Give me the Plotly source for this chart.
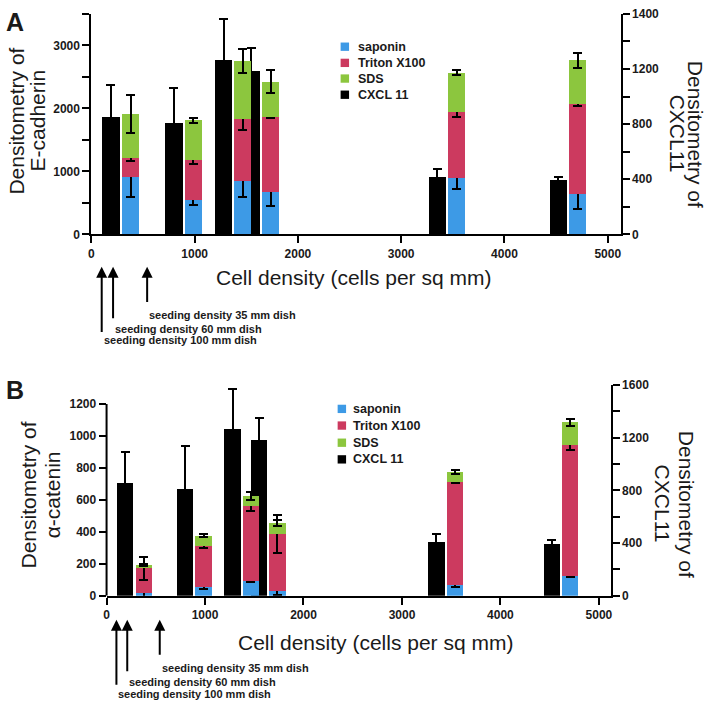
import plotly.graph_objects as go

W, H = 714, 708

# ---------------- data ----------------
x_stack = [380, 985, 1465, 1735, 3540, 4710]
x_cxcl = [190, 800, 1280, 1550, 3350, 4520]
bar_width = 165

# Panel A: E-cadherin (left axis)
a_saponin = [910, 540, 848, 672, 895, 647]
a_saponin_err = [320, 80, 255, 220, 170, 240]
a_triton = [300, 645, 983, 1190, 1040, 1422]
a_triton_err = [50, 65, 170, 20, 70, 35]
a_sds = [700, 630, 921, 564, 631, 694]
a_sds_err = [300, 40, 185, 185, 40, 115]
# Panel A: CXCL11 (right axis)
a_cxcl = [849, 806, 1265, 1183, 414, 395]
a_cxcl_err = [238, 256, 300, 170, 60, 22]

# Panel B: alpha-catenin (left axis)
b_saponin = [15, 55, 92, 29, 65, 127]
b_saponin_err = [30, 10, 8, 26, 12, 8]
b_triton = [157, 256, 468, 357, 649, 818]
b_triton_err = [72, 12, 28, 118, 6, 33]
b_sds = [22, 65, 65, 68, 59, 139]
b_sds_err = [8, 10, 25, 20, 12, 22]
# Panel B: CXCL11 (right axis)
b_cxcl = [856, 811, 1263, 1184, 409, 397]
b_cxcl_err = [233, 323, 305, 169, 62, 25]

seeding = [100, 210, 540]
seeding_labels = ["seeding density 100 mm dish", "seeding density 60 mm dish",
                  "seeding density 35 mm dish"]

series_names = ["saponin", "Triton X100", "SDS", "CXCL 11"]
colors = ["#3d9ae6", "#cc3a5f", "#8cc63e", "#000000"]

a_xticks = [0, 1000, 2000, 3000, 4000, 5000]
a_right_ticks = [0, 400, 800, 1200, 1600]
a_right_ticktext = ["0", "400", "800", "1200", "1400"]
b_left_ticks = [0, 200, 400, 600, 800, 1000, 1200]
b_right_ticks = [0, 400, 800, 1200, 1600]

FONT = "Liberation Sans, Arial, sans-serif"
TXT = "#1a1a1a"


def px_x(p):
    return p / W


def px_y(p):
    return 1 - p / H


def err(arr):
    return dict(type="data", array=arr, color="black", thickness=2, width=4.5)


fig = go.Figure()

# ---- Panel A ----
fig.add_trace(go.Bar(x=x_cxcl, y=a_cxcl, width=bar_width, marker=dict(color=colors[3], line=dict(width=0)),
                     error_y=err(a_cxcl_err), xaxis="x", yaxis="y", showlegend=False, name="CXCL 11"))
for vals, errs, c, n in [(a_saponin, a_saponin_err, colors[0], series_names[0]),
                         (a_triton, a_triton_err, colors[1], series_names[1]),
                         (a_sds, a_sds_err, colors[2], series_names[2])]:
    fig.add_trace(go.Bar(x=x_stack, y=vals, width=bar_width, marker=dict(color=c, line=dict(width=0)),
                         error_y=err(errs), xaxis="x", yaxis="y2", showlegend=False, name=n))

# ---- Panel B ----
fig.add_trace(go.Bar(x=x_cxcl, y=b_cxcl, width=bar_width, marker=dict(color=colors[3], line=dict(width=0)),
                     error_y=err(b_cxcl_err), xaxis="x2", yaxis="y3", showlegend=False, name="CXCL 11"))
for vals, errs, c, n in [(b_saponin, b_saponin_err, colors[0], series_names[0]),
                         (b_triton, b_triton_err, colors[1], series_names[1]),
                         (b_sds, b_sds_err, colors[2], series_names[2])]:
    fig.add_trace(go.Bar(x=x_stack, y=vals, width=bar_width, marker=dict(color=c, line=dict(width=0)),
                         error_y=err(errs), xaxis="x2", yaxis="y4", showlegend=False, name=n))

tickfont = dict(family=FONT, size=12, color=TXT, weight="bold")
axis_common = dict(showline=True, linewidth=2, linecolor="black", ticks="outside", ticklen=7,
                   tickwidth=2, tickcolor="black", showgrid=False, zeroline=False, tickfont=tickfont,
                   fixedrange=True)
minor_common = dict(ticks="outside", ticklen=7, tickwidth=2, tickcolor="black", showgrid=False)

fig.update_layout(
    width=W, height=H, margin=dict(l=0, r=0, t=0, b=0),
    paper_bgcolor="white", plot_bgcolor="rgba(0,0,0,0)",
    barmode="stack", showlegend=False,
    xaxis=dict(domain=[px_x(89), px_x(622)], range=[0, 5125], anchor="y",
               tickvals=a_xticks, **axis_common),
    yaxis=dict(domain=[px_y(232), px_y(7)], range=[0, 1600], anchor="x", side="right",
               tickvals=a_right_ticks, ticktext=a_right_ticktext,
               minor=dict(tickvals=[200, 600, 1000, 1400], **minor_common), **axis_common),
    yaxis2=dict(overlaying="y", range=[0, 3500], anchor="x", side="left",
                tickvals=[0, 1000, 2000, 3000],
                minor=dict(tickvals=[500, 1500, 2500, 3500], **minor_common), **axis_common),
    xaxis2=dict(domain=[px_x(104.3), px_x(612)], range=[0, 5120], anchor="y3",
                tickvals=a_xticks, **axis_common),
    yaxis3=dict(domain=[px_y(600.7), px_y(385.7)], range=[0, 1600], anchor="x2", side="right",
                tickvals=b_right_ticks,
                minor=dict(tickvals=[200, 600, 1000, 1400], **minor_common), **axis_common),
    yaxis4=dict(overlaying="y3", range=[0, 1318], anchor="x2", side="left",
                tickvals=b_left_ticks, **{**axis_common, "showline": False}),
)

# left axis line of panel B stops at 1200
fig.add_shape(type="line", xref="x2 domain", yref="y4", x0=0, x1=0, y0=0, y1=1200,
              line=dict(color="black", width=2))

ann = []


def text(x, y, s, size=21, bold=False, angle=0, xanchor="center", xref="paper", yref="paper"):
    ann.append(dict(x=x, y=y, xref=xref, yref=yref, text=s, showarrow=False, textangle=angle,
                    xanchor=xanchor, yanchor="middle",
                    font=dict(family=FONT, size=size, color=TXT, weight="bold" if bold else "normal")))


# panel letters
text(px_x(12), px_y(15.5), "A", size=25, bold=True)
text(px_x(12), px_y(391), "B", size=25, bold=True)

# axis titles panel A
text(px_x(14), px_y(116), "Densitometry of", angle=-90)
text(px_x(35), px_y(116), "E-cadherin", angle=-90)
text(px_x(697), px_y(129.5), "Densitometry of", angle=90)
text(px_x(679), px_y(129.5), "CXCL11", angle=90)
text(px_x(353), px_y(276), "Cell density (cells per sq mm)")

# axis titles panel B
text(px_x(26), px_y(497.5), "Densitometry of", angle=-90)
text(px_x(50), px_y(497.5), "α-catenin", angle=-90)
text(px_x(688), px_y(507), "Densitometry of", angle=90)
text(px_x(664), px_y(507), "CXCL11", angle=90)
text(px_x(375), px_y(648), "Cell density (cells per sq mm)")

# manual legends
for (sq_x, txt_x, rows) in [(340, 355, [40.5, 57, 73, 89.5]), (337, 350, [410, 427, 444.5, 461.5])]:
    for name, c, yc in zip(series_names, colors, rows):
        fig.add_shape(type="rect", xref="paper", yref="paper", x0=px_x(sq_x), x1=px_x(sq_x + 8.5),
                      y0=px_y(yc + 4.25), y1=px_y(yc - 4.25), fillcolor=c, line=dict(width=0))
        text(px_x(txt_x), px_y(yc), name, size=12.5, bold=True, xanchor="left")

# seeding-density arrows
for xref, head_y, tails, label_ys in [("x", 265, [331.7, 318, 301.7], [340, 328.7, 314.3]),
                                      ("x2", 625, [691.7, 678, 661.7], [700.7, 688.7, 674.3])]:
    for sx, tail, ly, lab in zip(seeding, tails, label_ys, seeding_labels):
        ann.append(dict(x=sx, y=px_y(head_y), xref=xref, yref="paper", text="", showarrow=True,
                        ax=0, ay=tail - head_y, arrowhead=2, arrowsize=1.1, arrowwidth=2,
                        arrowcolor="black"))
        text(sx, px_y(ly), lab, size=11, bold=True, xanchor="left", xref=xref)

fig.update_layout(annotations=ann)

fig.write_html("out.html", config={"displayModeBar": False},
               post_script="document.body.style.margin='0';")
